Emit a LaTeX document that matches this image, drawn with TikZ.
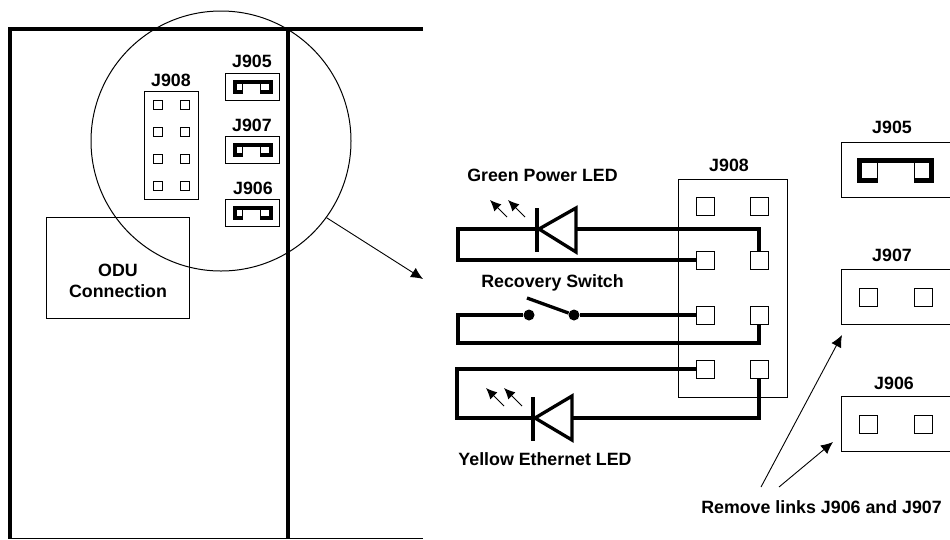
\documentclass[tikz,border=0pt]{standalone}
\usepackage{fontspec}
\setmainfont{Liberation Sans}
\usetikzlibrary{arrows.meta}

\begin{document}
\begin{tikzpicture}[x=1pt,y=-1pt,
  lbl/.style={font=\fontsize{17.8}{20}\selectfont\bfseries,inner sep=0pt},
  box/.style={draw,line width=1pt,inner sep=0pt},
  pin/.style={box,fill=white,minimum size=18pt},
  tinypin/.style={box,fill=white,minimum size=9pt},
  wire/.style={line width=3.3pt,miter limit=10},
  link/.style={line width=4pt},
  frame/.style={line width=4.4pt},
  dot/.style={fill,circle,inner sep=0pt,minimum size=11pt},
  arrow/.style={line width=0.9pt,-{Latex[length=12pt,width=11pt]}},
  ray/.style={line width=0.9pt,-{Latex[length=11pt,width=10pt]}}]
\useasboundingbox (0,0) rectangle (950,539);
% board
\coordinate (tl) at (10,29);
\coordinate (tr) at (423,29);
\coordinate (tm) at (288,29);
\coordinate (bl) at (10,538.5);
\coordinate (bm) at (288,538.5);
\coordinate (br) at (423,538.5);
\draw [frame] (tr) -- (tl) -- (bl);
\draw [frame] (tm) -- (bm);
\draw [line width=1pt] (bl) -- (br);
\node [box,minimum width=143pt,minimum height=101pt] (odu) at (117.5,267.5) {};
\node [lbl] (odu1) at (118,270) {ODU};
\node [lbl] (odu2) at (118,291) {Connection};
% small headers
\node [box,minimum width=54pt,minimum height=108pt] (hdr) at (171,145) {};
\node [lbl] (hdrname) at (171,80) {J908};
\node [tinypin] (h1) at (158,105) {};
\node [tinypin] (h2) at (185,105) {};
\node [tinypin] (h3) at (158,132) {};
\node [tinypin] (h4) at (185,132) {};
\node [tinypin] (h5) at (158,159) {};
\node [tinypin] (h6) at (185,159) {};
\node [tinypin] (h7) at (158,186) {};
\node [tinypin] (h8) at (185,186) {};
\node [box,minimum width=54pt,minimum height=27pt] (a5) at (252,87) {};
\node [lbl] (a5name) at (252,61) {J905};
\node [tinypin] (a5l) at (238,87) {};
\node [tinypin] (a5r) at (265,87) {};
\draw [link] (a5l.south east) -| (234.5,82) -- (270.5,82) |- (a5r.south west);
\node [box,minimum width=54pt,minimum height=27pt] (a7) at (252,150) {};
\node [lbl] (a7name) at (252,125) {J907};
\node [tinypin] (a7l) at (238,150) {};
\node [tinypin] (a7r) at (265,150) {};
\draw [link] (a7l.south east) -| (234.5,145) -- (270.5,145) |- (a7r.south west);
\node [box,minimum width=54pt,minimum height=27pt] (a6) at (252,213) {};
\node [lbl] (a6name) at (253,188) {J906};
\node [tinypin] (a6l) at (238,213) {};
\node [tinypin] (a6r) at (265,213) {};
\draw [link] (a6l.south east) -| (234.5,208) -- (270.5,208) |- (a6r.south west);
% magnifier
\node [draw,circle,line width=1pt,minimum size=260pt,inner sep=0pt] (lens) at (221,141) {};
\coordinate (zoomend) at (423,279);
\draw [arrow] (lens.-36) -- (zoomend);
% big header
\node [box,minimum width=109pt,minimum height=218pt] (J908) at (732.5,288) {};
\node [lbl] (J908name) at (729,165) {J908};
\coordinate (led1a) at (576,229);
\coordinate (led1b) at (538,229);
\coordinate (led2a) at (572,418);
\coordinate (led2b) at (534,418);
\node [dot] (sw1) at (529,315) {};
\node [dot] (sw2) at (574,315) {};
\node [pin] (p1) at (705,206) {};
\node [pin] (p2) at (759,206) {};
\node [pin] (p3) at (705,260) {};
\node [pin] (p4) at (759,260) {};
\node [pin] (p5) at (705,315) {};
\node [pin] (p6) at (759,315) {};
\node [pin] (p7) at (705,369) {};
\node [pin] (p8) at (759,369) {};
% wiring
\draw [wire] (p4.north) |- (led1a);
\draw [wire] (led1b) -- (458,229) |- (p3.west);
\draw [wire] (sw2) -- (p5.west);
\draw [wire] (sw1) -- (458,315) |- (759,343) -- (p6.south);
\draw [wire] (p7.west) -- (457,369) |- (led2b);
\draw [wire] (led2a) -| (p8.south);
\draw [wire] (sw2) -- (527,298);
% diodes
\draw [wire] (576,208) -- (539,229) -- (576,252) -- cycle;
\draw [wire] (537,208) -- (537,252);
\draw [wire] (572,396) -- (535,418) -- (572,440) -- cycle;
\draw [wire] (533,397) -- (533,441);
\draw [ray] (507,217) -- (490,200);
\draw [ray] (525,217) -- (508,200);
\draw [ray] (504,406) -- (486,388);
\draw [ray] (522,406) -- (504,388);
\node [lbl] (green) at (542.5,175) {Green Power LED};
\node [lbl] (recovery) at (552.5,283) {Recovery Switch};
\node [lbl] (yellow) at (545,459) {Yellow Ethernet LED};
% big jumpers
\node [box,minimum width=109pt,minimum height=55pt] (J905) at (895.5,169.5) {};
\node [lbl] (J905name) at (892,127) {J905};
\node [pin] (J905l) at (868,171) {};
\node [pin] (J905r) at (923,171) {};
\draw [line width=4.5pt] (J905l.south east) -| (859.5,160.5) -- (931.5,160.5) |- (J905r.south west);
\node [box,minimum width=109pt,minimum height=55pt] (J907) at (895.5,296.5) {};
\node [lbl] (J907name) at (892,255) {J907};
\node [pin] (J907l) at (868,297) {};
\node [pin] (J907r) at (923,297) {};
\node [box,minimum width=109pt,minimum height=55pt] (J906) at (895.5,423.5) {};
\node [lbl] (J906name) at (894,383) {J906};
\node [pin] (J906l) at (868,424) {};
\node [pin] (J906r) at (923,424) {};
% note
\node [lbl] (remove) at (821.5,507) {Remove links J906 and J907};
\coordinate (tail7) at (761,487);
\coordinate (tail6) at (779,487);
\coordinate (tip7) at (842,335);
\coordinate (tip6) at (833,442);
\draw [arrow] (tail7) -- (tip7);
\draw [arrow] (tail6) -- (tip6);
\end{tikzpicture}
\end{document}
